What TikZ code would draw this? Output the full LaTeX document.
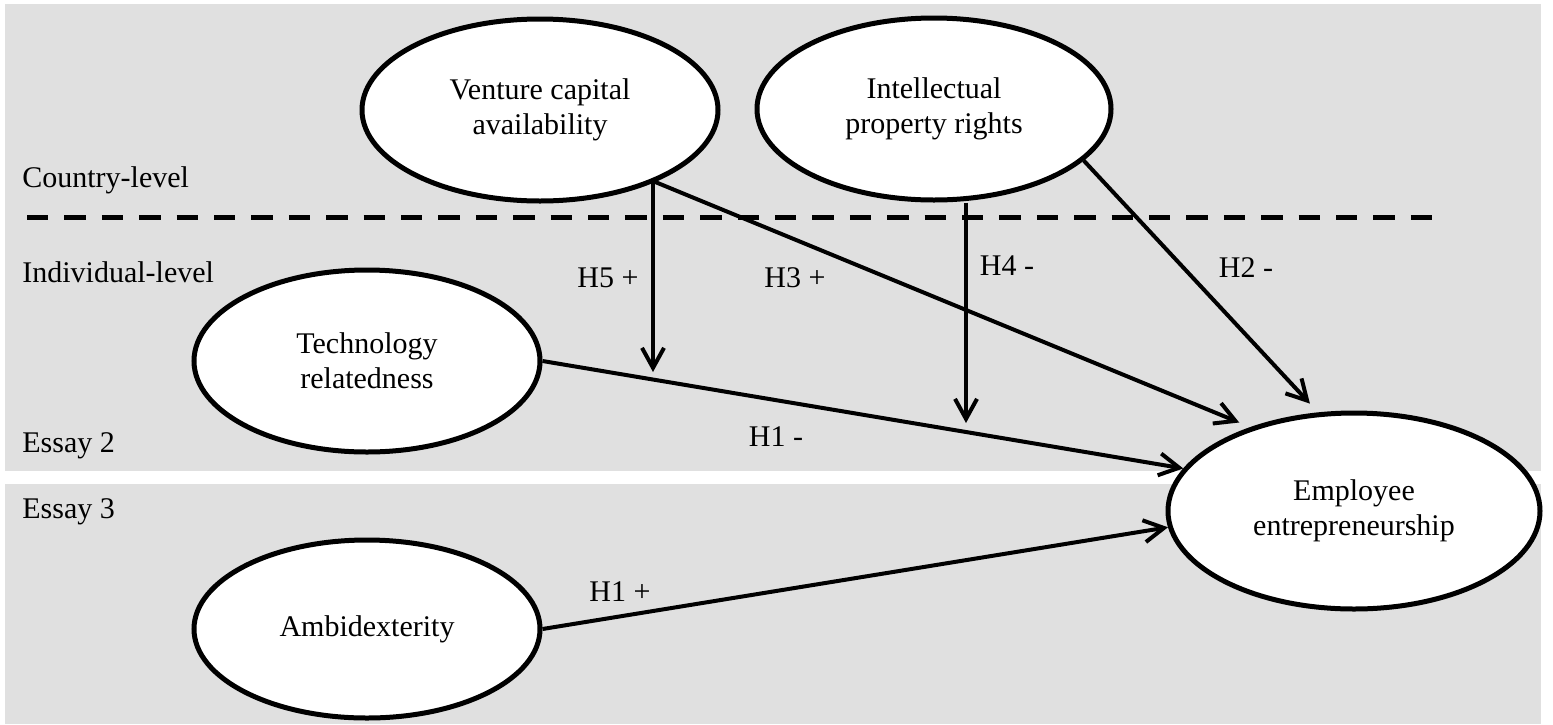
\documentclass[tikz,border=0pt]{standalone}
\usepackage{fontspec}
\setmainfont{Liberation Serif}
\usetikzlibrary{shapes.geometric,arrows.meta}
\definecolor{panelgray}{RGB}{224,224,224}

\begin{document}
\begin{tikzpicture}[x=0.5pt,y=-0.5pt,
    every node/.style={font=\fontsize{15}{17.5}\selectfont},
    construct/.style={ellipse,draw,line width=2.5pt,fill=white,align=center,inner sep=0pt},
    level/.style={anchor=west,inner sep=0pt},
    hyp/.style={line width=2pt,-{Straight Barb[length=10pt,width=11pt]}}]
  \useasboundingbox (0,0) rectangle (1553,724);
  \fill[panelgray] (5,4) rectangle (1541,471);
  \fill[panelgray] (5,484) rectangle (1541,724);
  \draw[line width=2.5pt,dash pattern=on 10.7pt off 8pt] (27,217) -- (1433,217);

  \node[level] (country) at (22,180) {Country-level};
  \node[level] (indiv) at (22,272) {Individual-level};
  \node[level] (essay2) at (22,446) {Essay 2};
  \node[level] (essay3) at (22,512) {Essay 3};

  \node[construct,minimum width=178pt,minimum height=91pt] (vc) at (540,110) {Venture capital\\availability};
  \node[construct,minimum width=177pt,minimum height=91pt] (ipr) at (934,109) {Intellectual\\property rights};
  \node[construct,minimum width=173pt,minimum height=91pt] (tech) at (367,361) {Technology\\relatedness};
  \node[construct,minimum width=186pt,minimum height=98pt] (emp) at (1354,511) {Employee\\entrepreneurship};
  \node[construct,minimum width=173pt,minimum height=89pt] (amb) at (367,629) {Ambidexterity};

  \coordinate (h5tip) at (653,372);
  \coordinate (h4tip) at (966,423);
  \draw[hyp] (h5tip |- vc.-32) -- (h5tip);
  \draw[hyp] (h4tip |- ipr.south) -- (h4tip);
  \draw[hyp,shorten >=6pt] (vc.-32) -- (emp.141);
  \draw[hyp,shorten >=6pt] (ipr.-19) -- (emp.110);
  \draw[hyp] (tech.east) -- (emp.166);
  \draw[hyp] (amb.east) -- (emp.185);

  \node (h5) at (608,278) {H5 +};
  \node (h3) at (795,278) {H3 +};
  \node (h4) at (1007,266) {H4 -};
  \node (h2) at (1246,268) {H2 -};
  \node (h1neg) at (776,437) {H1 -};
  \node (h1pos) at (620,592) {H1 +};
\end{tikzpicture}
\end{document}
